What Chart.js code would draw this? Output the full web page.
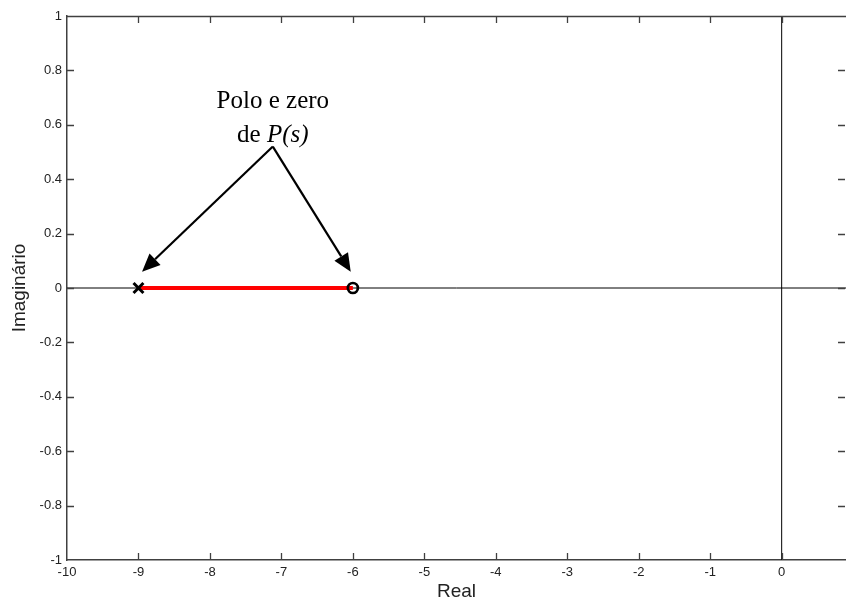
<!DOCTYPE html>
<html>
<head>
<meta charset="utf-8">
<script src="https://cdn.jsdelivr.net/npm/chart.js@4"></script>
<style>
  html, body { margin: 0; padding: 0; background: #fff; }
  #wrap { width: 846px; height: 601px; }
</style>
</head>
<body>
<div id="wrap"><canvas id="grafico" width="846" height="601"></canvas></div>
<script>
// eixos
const realTicks = [-10, -9, -8, -7, -6, -5, -4, -3, -2, -1, 0];
const imagTicks = [-1, -0.8, -0.6, -0.4, -0.2, 0, 0.2, 0.4, 0.6, 0.8, 1];
const realMin = -10;
const realMax = 0.9;

// lugar das raizes
const locusReal = [-9, -6];
const locusImag = [0, 0];
const polosReal = [-9];
const polosImag = [0];
const zerosReal = [-6];
const zerosImag = [0];

// anotacao (em unidades do grafico)
const anotacaoLinhas = ["Polo e zero", "de P(s)"];
const anotacaoTexto = { x: -7.12, y: [0.66, 0.535] };
const setaOrigem = { x: -7.12, y: 0.52 };
const setaDestinos = [
  { x: -8.95, y: 0.06 },
  { x: -6.03, y: 0.06 },
];

function pontos(xs, ys) {
  return xs.map((x, i) => ({ x, y: ys[i] }));
}

const corEixo = "#404040";

const eixosInternos = {
  id: "eixosInternos",
  afterDraw(chart) {
    const { ctx, chartArea: a, scales } = chart;
    const tam = 7;
    ctx.save();
    ctx.strokeStyle = corEixo;
    ctx.lineWidth = 1.3;
    ctx.beginPath();
    ctx.moveTo(a.left, a.top + 0.5);
    ctx.lineTo(a.right, a.top + 0.5);
    scales.x.ticks.forEach((t) => {
      const px = Math.round(scales.x.getPixelForValue(t.value)) + 0.5;
      if (t.value === realMin) return;
      ctx.moveTo(px, a.bottom);
      ctx.lineTo(px, a.bottom - tam);
      ctx.moveTo(px, a.top);
      ctx.lineTo(px, a.top + tam);
    });
    scales.y.ticks.forEach((t) => {
      const py = Math.round(scales.y.getPixelForValue(t.value)) + 0.5;
      if (t.value === -1 || t.value === 1) return;
      ctx.moveTo(a.left, py);
      ctx.lineTo(a.left + tam, py);
      ctx.moveTo(a.right - 1, py);
      ctx.lineTo(a.right - 1 - tam, py);
    });
    ctx.stroke();
    ctx.restore();
  },
};

const anotacao = {
  id: "anotacao",
  afterDraw(chart) {
    const { ctx, scales } = chart;
    const x = scales.x, y = scales.y;
    ctx.save();
    ctx.fillStyle = "#000";
    ctx.textAlign = "center";
    ctx.textBaseline = "alphabetic";
    const tx = x.getPixelForValue(anotacaoTexto.x);
    const normal = '25px "Liberation Serif", "Times New Roman", serif';
    const italico = 'italic 25px "Liberation Serif", "Times New Roman", serif';
    ctx.font = normal;
    ctx.fillText(anotacaoLinhas[0], tx, y.getPixelForValue(anotacaoTexto.y[0]));
    // "de P(s)" com P(s) em italico
    const l2y = y.getPixelForValue(anotacaoTexto.y[1]);
    const w1 = ctx.measureText("de ").width;
    ctx.font = italico;
    const w2 = ctx.measureText("P(s)").width;
    const x0 = tx - (w1 + w2) / 2;
    ctx.textAlign = "left";
    ctx.font = normal;
    ctx.fillText("de ", x0, l2y);
    ctx.font = italico;
    ctx.fillText("P(s)", x0 + w1, l2y);

    const ox = x.getPixelForValue(setaOrigem.x);
    const oy = y.getPixelForValue(setaOrigem.y);
    ctx.strokeStyle = "#000";
    ctx.lineWidth = 2.2;
    ctx.lineJoin = "miter";
    setaDestinos.forEach((d) => {
      const dx = x.getPixelForValue(d.x);
      const dy = y.getPixelForValue(d.y);
      const ang = Math.atan2(dy - oy, dx - ox);
      const comp = 18, larg = 8;
      const bx = dx - comp * Math.cos(ang);
      const by = dy - comp * Math.sin(ang);
      ctx.beginPath();
      ctx.moveTo(ox, oy);
      ctx.lineTo(bx, by);
      ctx.stroke();
      ctx.beginPath();
      ctx.moveTo(dx, dy);
      ctx.lineTo(bx + larg * Math.sin(ang), by - larg * Math.cos(ang));
      ctx.lineTo(bx - larg * Math.sin(ang), by + larg * Math.cos(ang));
      ctx.closePath();
      ctx.fill();
    });
    ctx.restore();
  },
};

const fonteTicks = { family: '"Liberation Sans", Arial, sans-serif', size: 13 };
const fonteTitulo = { family: '"Liberation Sans", Arial, sans-serif', size: 19, lineHeight: 1 };

new Chart(document.getElementById("grafico"), {
  type: "scatter",
  data: {
    datasets: [
      {
        data: pontos(polosReal, polosImag),
        pointStyle: "crossRot",
        pointRadius: 7,
        borderColor: "#000",
        borderWidth: 3,
      },
      {
        data: pontos(zerosReal, zerosImag),
        pointStyle: "circle",
        pointRadius: 5,
        borderColor: "#000",
        backgroundColor: "rgba(0,0,0,0)",
        borderWidth: 2.7,
      },
      {
        data: pontos(locusReal, locusImag),
        showLine: true,
        borderColor: "#ff0000",
        borderWidth: 4,
        pointRadius: 0,
      },
      {
        data: pontos([realMin, realMax], [0, 0]),
        showLine: true,
        borderColor: "#000",
        borderWidth: 1,
        pointRadius: 0,
      },
      {
        data: pontos([0, 0], [-1, 1]),
        showLine: true,
        borderColor: "#000",
        borderWidth: 1,
        pointRadius: 0,
      },
    ],
  },
  options: {
    responsive: false,
    animation: false,
    events: [],
    layout: { autoPadding: false, padding: { top: 16, right: 0, left: 0, bottom: 0 } },
    plugins: {
      legend: { display: false },
      tooltip: { enabled: false },
    },
    scales: {
      x: {
        type: "linear",
        min: realMin,
        max: realMax,
        afterBuildTicks: (s) => {
          s.ticks = realTicks.map((v) => ({ value: v }));
        },
        afterFit: (s) => {
          s.height = 41;
        },
        grid: { display: false, drawTicks: false },
        border: { display: true, color: corEixo, width: 1.5 },
        ticks: {
          color: "#222",
          font: fonteTicks,
          padding: 5,
          maxRotation: 0,
          autoSkip: false,
        },
        title: {
          display: true,
          text: "Real",
          color: "#222",
          font: fonteTitulo,
          padding: { top: 0, bottom: 0 },
        },
      },
      y: {
        type: "linear",
        min: -1,
        max: 1,
        afterBuildTicks: (s) => {
          s.ticks = imagTicks.map((v) => ({ value: v }));
        },
        afterFit: (s) => {
          s.width = 67;
        },
        grid: { display: false, drawTicks: false },
        border: { display: true, color: corEixo, width: 1.5 },
        ticks: {
          color: "#222",
          font: fonteTicks,
          padding: 5,
          autoSkip: false,
          callback: (v) => String(Number(v.toFixed(1))),
        },
        title: {
          display: true,
          text: "Imaginário",
          color: "#222",
          font: fonteTitulo,
          padding: { top: 10, bottom: 0 },
        },
      },
    },
  },
  plugins: [eixosInternos, anotacao],
});
</script>
</body>
</html>
